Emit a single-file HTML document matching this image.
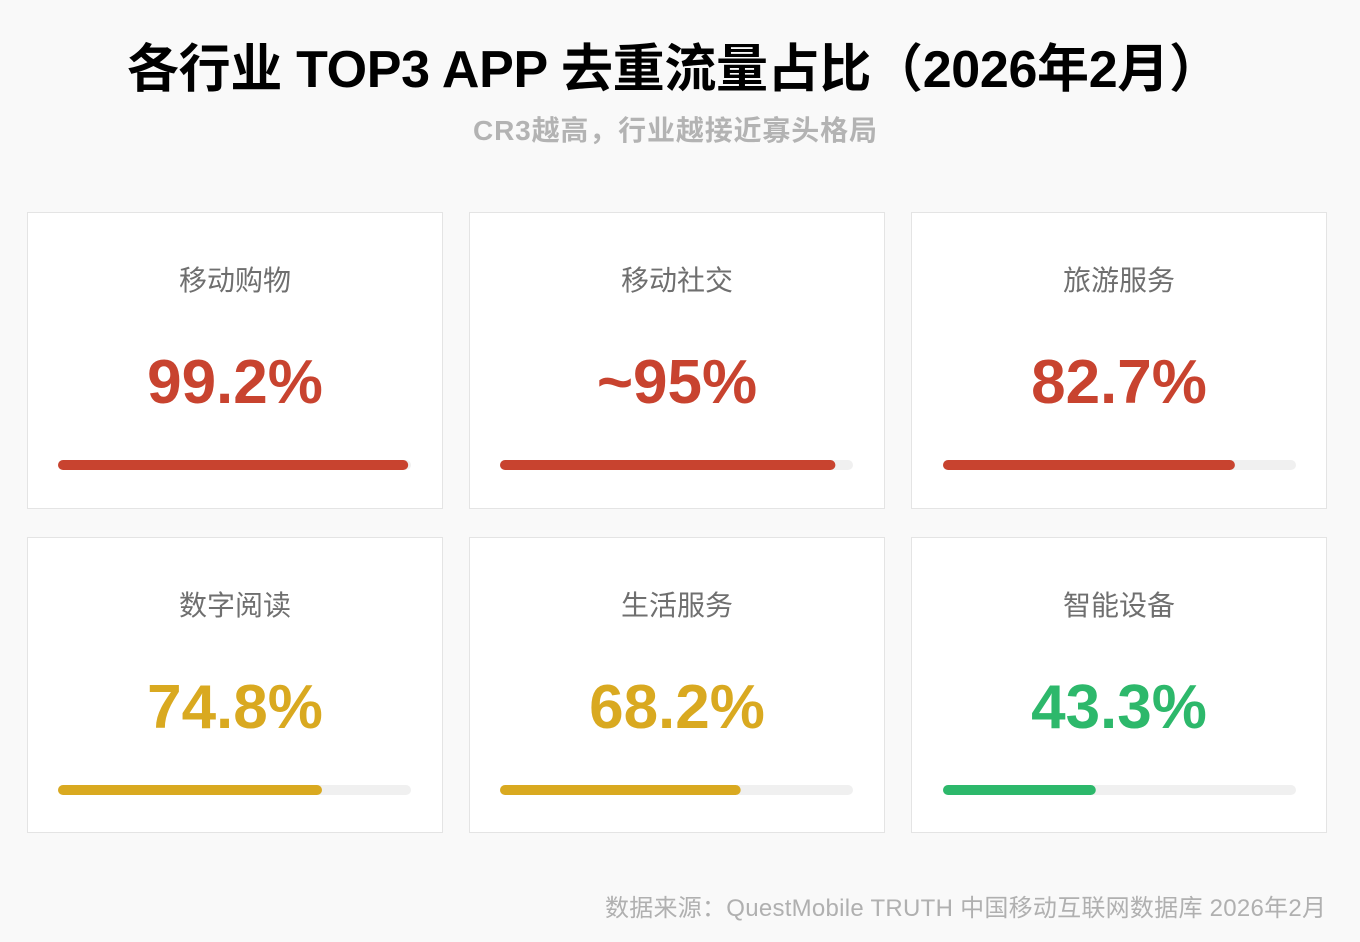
<!DOCTYPE html>
<html>
<head>
<meta charset="utf-8">
<style>
  html, body { margin: 0; padding: 0; background: #f9f9f9; }
  body { width: 1360px; height: 942px; overflow: hidden; }
  svg { display: block; }
  .t { font-family: "Liberation Sans", "Noto Sans CJK SC", sans-serif; }
</style>
</head>
<body>
<svg width="1360" height="942" viewBox="0 0 1360 942" xmlns="http://www.w3.org/2000/svg">
  <rect x="0" y="0" width="1360" height="942" fill="#f9f9f9"/>

  <!-- Title -->
  <text class="t" x="127" y="87" font-size="52" font-weight="bold" fill="#000" textLength="1094" lengthAdjust="spacing">各行业 TOP3 APP 去重流量占比（2026年2月）</text>
  <!-- Subtitle -->
  <text class="t" x="675" y="140" text-anchor="middle" font-size="28" font-weight="bold" fill="#b3b3b3" textLength="404" lengthAdjust="spacing">CR3越高，行业越接近寡头格局</text>

  <!-- Row 1 cards -->
  <g>
    <rect x="27.5" y="212.5" width="415" height="296" fill="#fff" stroke="#e4e4e4" stroke-width="1"/>
    <text class="t" x="235" y="290" text-anchor="middle" font-size="28" fill="#6f6f6f">移动购物</text>
    <text class="t" x="235" y="403" text-anchor="middle" font-size="62" font-weight="bold" fill="#c8432f">99.2%</text>
    <rect x="58" y="460" width="353" height="10" rx="5" fill="#f0f0f0"/>
    <rect x="58" y="460" width="350.2" height="10" rx="5" fill="#c8432f"/>
  </g>
  <g>
    <rect x="469.5" y="212.5" width="415" height="296" fill="#fff" stroke="#e4e4e4" stroke-width="1"/>
    <text class="t" x="677" y="290" text-anchor="middle" font-size="28" fill="#6f6f6f">移动社交</text>
    <text class="t" x="677" y="403" text-anchor="middle" font-size="62" font-weight="bold" fill="#c8432f">~95%</text>
    <rect x="500" y="460" width="353" height="10" rx="5" fill="#f0f0f0"/>
    <rect x="500" y="460" width="335.4" height="10" rx="5" fill="#c8432f"/>
  </g>
  <g>
    <rect x="911.5" y="212.5" width="415" height="296" fill="#fff" stroke="#e4e4e4" stroke-width="1"/>
    <text class="t" x="1119" y="290" text-anchor="middle" font-size="28" fill="#6f6f6f">旅游服务</text>
    <text class="t" x="1119" y="403" text-anchor="middle" font-size="62" font-weight="bold" fill="#c8432f">82.7%</text>
    <rect x="943" y="460" width="353" height="10" rx="5" fill="#f0f0f0"/>
    <rect x="943" y="460" width="291.9" height="10" rx="5" fill="#c8432f"/>
  </g>

  <!-- Row 2 cards -->
  <g>
    <rect x="27.5" y="537.5" width="415" height="295" fill="#fff" stroke="#e4e4e4" stroke-width="1"/>
    <text class="t" x="235" y="615" text-anchor="middle" font-size="28" fill="#6f6f6f">数字阅读</text>
    <text class="t" x="235" y="728" text-anchor="middle" font-size="62" font-weight="bold" fill="#d9a920">74.8%</text>
    <rect x="58" y="785" width="353" height="10" rx="5" fill="#f0f0f0"/>
    <rect x="58" y="785" width="264" height="10" rx="5" fill="#d9a920"/>
  </g>
  <g>
    <rect x="469.5" y="537.5" width="415" height="295" fill="#fff" stroke="#e4e4e4" stroke-width="1"/>
    <text class="t" x="677" y="615" text-anchor="middle" font-size="28" fill="#6f6f6f">生活服务</text>
    <text class="t" x="677" y="728" text-anchor="middle" font-size="62" font-weight="bold" fill="#d9a920">68.2%</text>
    <rect x="500" y="785" width="353" height="10" rx="5" fill="#f0f0f0"/>
    <rect x="500" y="785" width="240.7" height="10" rx="5" fill="#d9a920"/>
  </g>
  <g>
    <rect x="911.5" y="537.5" width="415" height="295" fill="#fff" stroke="#e4e4e4" stroke-width="1"/>
    <text class="t" x="1119" y="615" text-anchor="middle" font-size="28" fill="#6f6f6f">智能设备</text>
    <text class="t" x="1119" y="728" text-anchor="middle" font-size="62" font-weight="bold" fill="#2db86b">43.3%</text>
    <rect x="943" y="785" width="353" height="10" rx="5" fill="#f0f0f0"/>
    <rect x="943" y="785" width="152.8" height="10" rx="5" fill="#2db86b"/>
  </g>

  <!-- Footer -->
  <text class="t" x="1326" y="916" text-anchor="end" font-size="24" fill="#b0b0b0" textLength="721" lengthAdjust="spacing">数据来源：QuestMobile TRUTH 中国移动互联网数据库 2026年2月</text>
</svg>
</body>
</html>
